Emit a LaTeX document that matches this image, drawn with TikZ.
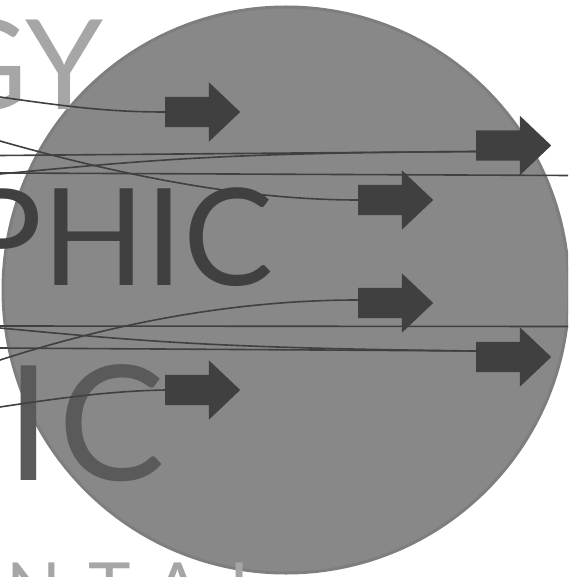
\documentclass[tikz,border=0pt]{standalone}
\usepackage{fontspec}
\setmainfont{Lato}
\newfontfamily\widefont[LetterSpace=38]{Lato}
\usetikzlibrary{shapes.arrows,positioning}
\definecolor{discgray}{RGB}{136,136,136}
\definecolor{rimgray}{RGB}{126,126,126}
\definecolor{inkgray}{RGB}{64,64,64}
\definecolor{midgray}{RGB}{90,90,90}
\definecolor{palegray}{RGB}{166,166,166}

\begin{document}
\begin{tikzpicture}[x=1pt,y=-1pt,
  blk/.style={single arrow,fill=inkgray,draw=none,inner sep=0pt,
              minimum height=75pt,single arrow head extend=14.5pt,
              single arrow tip angle=87,anchor=tail},
  wire/.style={draw=inkgray,line width=1.6pt},
  word/.style={inner sep=0pt,anchor=base east}
]
\useasboundingbox (0,0) rectangle (568,577);
\clip (0,0) rectangle (568,577);
% disc
\node[circle,fill=discgray,draw=rimgray,line width=3pt,minimum size=566pt,
      inner sep=0pt] (disc) at (286,290) {};
% words
\node[word,text=palegray,font=\fontsize{125}{125}\selectfont] (gy) at (104,110) {GY};
\node[word,text=inkgray,font=\fontsize{135}{135}\selectfont] (phic) at (274,285) {PHIC};
\node[word,text=midgray,font=\fontsize{160}{160}\selectfont] (ic) at (166,480) {I\kern8pt C};
\node[inner sep=0pt,anchor=base west,text=palegray,font=\widefont\fontsize{72}{72}\selectfont]
      (ntal) at (6,614) {NTAL};
% block arrows
\node[blk] (a1) at (165,112) {\rule{0pt}{30pt}};
\node[blk] (a2) at (476,145.5) {\rule{0pt}{30pt}};
\node[blk] (a3) at (358,200) {\rule{0pt}{30pt}};
\node[blk] (a4) at (358,303) {\rule{0pt}{30pt}};
\node[blk] (a5) at (476,357) {\rule{0pt}{30pt}};
\node[blk] (a6) at (165,390) {\rule{0pt}{30pt}};
% free ends
\coordinate (s1) at (0,97);
\coordinate (s2) at (0,141);
\coordinate (s3) at (0,155.5);
\coordinate (s4) at (0,174);
\coordinate (s5) at (0,173);
\coordinate (e5) at (570,175.5);
\coordinate (t1) at (0,326);
\coordinate (f1) at (570,326.5);
\coordinate (t2) at (0,328);
\coordinate (t3) at (0,348);
\coordinate (t4) at (0,360);
\coordinate (t5) at (0,407);
% wires
\draw[wire] (s1) .. controls (70,107) and (110,112) .. (a1.tail);
\draw[wire] (s2) .. controls (130,178) and (250,200) .. (a3.tail);
\draw[wire] (s3) -- ([yshift=-6pt]a2.tail);
\draw[wire] (s4) .. controls (150,160) and (220,153) .. ([yshift=-6pt]a2.tail);
\draw[wire] (s5) -- (e5);
\draw[wire] (t1) -- (f1);
\draw[wire] (t2) .. controls (150,342) and (220,348) .. ([yshift=6pt]a5.tail);
\draw[wire] (t3) -- ([yshift=6pt]a5.tail);
\draw[wire] (t4) .. controls (130,318) and (250,300) .. ([yshift=3pt]a4.tail);
\draw[wire] (t5) .. controls (60,398) and (110,391) .. (a6.tail);
\end{tikzpicture}
\end{document}
